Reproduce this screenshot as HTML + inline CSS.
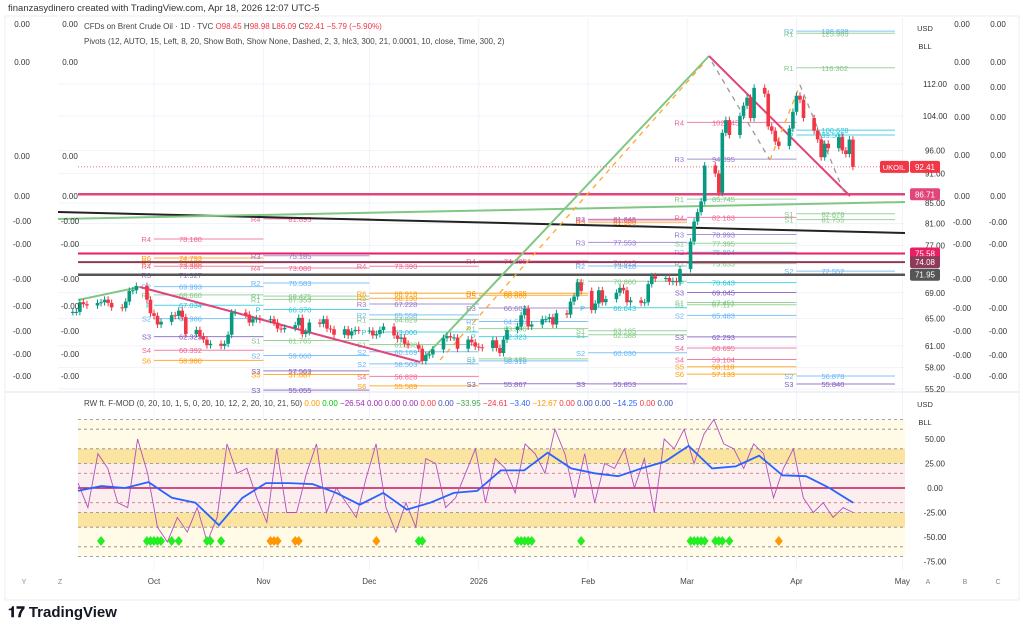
<!DOCTYPE html>
<html><head><meta charset="utf-8"><style>
body{margin:0;background:#fff;font-family:"Liberation Sans",sans-serif;}
svg text{font-family:"Liberation Sans",sans-serif;}
</style></head><body>
<svg id="c" width="1024" height="632" xmlns="http://www.w3.org/2000/svg">
<rect x="0" y="0" width="1024" height="632" fill="#fff"/>
<text x="8" y="11" font-size="9.5" fill="#333">finanzasydinero created with TradingView.com, Apr 18, 2026 12:07 UTC-5</text>
<rect x="5" y="16" width="1014" height="584" fill="none" stroke="#eee"/>
<g id="grid"></g><g id="bands"></g><g id="pivots"></g><g id="lines"></g><g id="candles"></g><g id="osc"></g><g id="axes"></g>
<text x="84" y="29" font-size="8" fill="#444">CFDs on Brent Crude Oil · 1D · TVC  <tspan fill="#f23645">O98.45</tspan>  H<tspan fill="#f23645">98.98</tspan>  L<tspan fill="#f23645">86.09</tspan>  C<tspan fill="#f23645">92.41  −5.79 (−5.90%)</tspan></text>
<text x="84" y="44" font-size="8" fill="#444">Pivots (12, AUTO, 15, Left, 8, 20, Show Both, Show None, Dashed, 2, 3, hlc3, 300, 21, 0.0001, 10, close, Time, 300, 2)</text>
<text x="84" y="406" font-size="8" fill="#444">RW ft. F-MOD (0, 20, 10, 1, 5, 0, 20, 10, 12, 2, 20, 10, 21, 50) <tspan fill="#ff9800">0.00</tspan> <tspan fill="#00c800">0.00</tspan> <tspan fill="#9c27b0">−26.54 0.00 0.00 0.00</tspan> <tspan fill="#f23645">0.00</tspan> <tspan fill="#3f51b5">0.00</tspan> <tspan fill="#43a047">−33.95</tspan> <tspan fill="#f23645">−24.61</tspan> <tspan fill="#2962ff">−3.40</tspan> <tspan fill="#ff9800">−12.67</tspan> <tspan fill="#f23645">0.00</tspan> <tspan fill="#3f51b5">0.00 0.00</tspan> <tspan fill="#2962ff">−14.25</tspan> <tspan fill="#f23645">0.00</tspan> <tspan fill="#3f51b5">0.00</tspan></text>
<g><text x="8" y="617" font-size="15" font-weight="bold" fill="#131722">𝟏𝟕 TradingView</text></g>
</svg>
<script>
const closes=[66.0,66.0,67.5,67.2,67.0, 67.4,67.5,67.9,67.4,66.7, 66.6,67.6,69.3,69.4,70.1, 67.9,65.8,65.4,64.1,64.5, 65.5,65.4,66.2,65.2,62.7, 63.3,62.4,61.9,61.1,61.3, 61.0,61.3,62.6,65.9,65.9, 65.6,64.4,64.9,65.0,64.8, 64.9,64.4,63.5,63.4,63.6, 64.0,65.1,62.7,63.0,64.4, 64.2,64.9,63.5,63.4,62.6, 63.4,62.5,63.1,63.3,63.2, 63.2,62.5,62.7,63.3,63.8, 62.5,62.0,62.2,61.3,61.1, 60.6,58.9,59.7,59.8,60.5, 62.1,62.4,62.2,62.2,60.6, 61.9,61.5,60.9,60.8,60.7, 61.8,60.7,60.0,61.9,63.3, 63.8,65.5,66.5,63.8,64.1, 64.9,64.9,65.2,64.1,65.8, 65.6,67.6,68.4,70.7,69.3, 66.3,67.3,69.4,67.5,68.0, 69.0,69.8,69.4,67.5,67.8, 67.4,67.5,70.4,71.7,71.3, 71.4,70.8,70.9,70.7,72.9, 77.7,81.4,83.2,85.3,92.7, 91.0,87.0,100.0,103.0,99.5, 104.0,106.5,108.5,103.5,111.0, 109.5,101.5,100.5,98.0,97.0, 101.0,105.0,109.0,108.0,103.5, 100.5,98.5,94.5,97.5,96.5, 99.0,96.0,95.2,98.45,92.41];
const yTicks=[112,104,96,91,85,81,77,69,65,61,58,55.2];
const monthLabels=["Oct","Nov","Dec","2026","Feb","Mar","Apr","May"];
const monthDates=["2025-10-01","2025-11-01","2025-12-01","2026-01-01","2026-02-01","2026-03-01","2026-04-01","2026-05-01"];
const periodStarts=["2025-09-10","2025-10-01","2025-11-01","2025-12-01","2026-01-01","2026-02-01","2026-03-01","2026-04-01","2026-05-01"];
const pivotPeriod=[1,1,1,1,1,1,1,1,1,1,1,1, 2,2,2,2,2,2,2,2,2,2,2,2, 3,3,3,3,3,3,3,3,3,3,3,3, 4,4,4,4,4,4,4,4,4,4, 5,5,5,5,5,5,5,5,5,5,5,5, 6,6,6,6,6,6,6,6,6,6,6,6,6,6,6,6,6,6, 7,7,7,7,7,7,7,7,7,7];
const pivotLabel=["R4","R6","R5","R4","R3","R2","R1","P","S2","S3","S4","S6", "R4","R3","R4","R2","R1","R1","P","S1","S2","S3","S5","S3", "R4","R6","R5","R3","R2","R1","P","S1","S2","S2","S4","S6", "R4","R6","R5","R3","R2","R1","P","S1","S2","S3", "R3","R5","R4","R3","R?","R2","R1","P","S1","S1","S2","S3", "R4","R3","R1","R4","R3","S1","R2","R1","P","S3","S1","S1","S2","S3","S4","S4","S5","S6", "R2","R1","R1","P","P","S1","S1","S2","S2","S3"];
const pivotValue=[78.180,74.793,73.980,73.380,71.927,69.993,68.660,67.034,64.986,62.323,60.392,58.980, 81.895,75.185,73.080,70.583,68.475,67.953,66.370,61.765,59.660,57.563,57.087,55.055, 73.390,68.918,68.130,67.228,65.558,64.829,63.000,61.198,60.169,58.503,56.828,55.589, 74.285,68.925,68.600,66.607,64.556,63.500,62.323,59.185,58.918,55.867, 81.845,81.300,81.690,77.553,74.015,73.418,70.860,66.643,63.185,62.588,60.030,55.853, 102.445,94.095,85.745,82.183,78.993,77.395,75.804,73.833,70.643,69.045,67.451,67.117,65.483,62.293,60.695,59.104,58.118,57.133, 126.628,125.985,116.302,100.628,99.500,82.878,81.755,72.552,56.878,55.840];
const oscBlue=[-3,2,0,6,-10,-15,-38,-10,5,5,4,-5,-17,-5,-22,-15,-5,-3,18,18,36,20,15,12,20,27,43,20,22,33,13,12,0,-15];
const oscPurple=[5,-20,35,20,-15,-20,50,15,-40,-55,-30,-45,-20,-55,-30,45,15,20,-10,-35,40,-25,-25,15,45,-25,0,-15,-30,10,45,-20,-45,-15,-40,30,25,-20,-10,15,40,-15,30,20,-5,45,35,15,60,35,-10,35,-15,25,20,40,0,30,-25,50,40,60,25,55,70,45,40,20,45,35,-10,20,40,-10,-25,-15,-30,-20,-25];
const diamondDates=["2025-09-16","2025-09-29","2025-09-30","2025-10-01","2025-10-02","2025-10-03","2025-10-06","2025-10-08","2025-10-16","2025-10-17","2025-10-20","2025-11-03","2025-11-04","2025-11-05","2025-11-10","2025-11-11","2025-12-03","2025-12-15","2025-12-16","2026-01-12","2026-01-13","2026-01-14","2026-01-15","2026-01-16","2026-01-30","2026-03-02","2026-03-03","2026-03-04","2026-03-05","2026-03-06","2026-03-09","2026-03-10","2026-03-11","2026-03-13","2026-03-27"];
const diamondKind=["g","g","g","g","g","g","g","g","g","g","g","o","o","o","o","o","o","g","g","g","g","g","g","g","g","g","g","g","g","g","g","g","g","g","o"];
const NS="http://www.w3.org/2000/svg";
function mk(p,tag,at){const e=document.createElementNS(NS,tag);for(const k in at)e.setAttribute(k,at[k]);document.getElementById(p).appendChild(e);return e;}
const D0=Date.UTC(2025,9,1);
function xd(s){const [y,m,d]=s.split("-").map(Number);return 154+(Date.UTC(y,m-1,d)-D0)/864e5*3.53;}
function yp(p){return 84+(Math.log(112)-Math.log(p))*431;}
function yo(v){return 488-v*0.98;}
const X0=58,X1=905;
const tdates=[];{let t=Date.UTC(2026,3,17);while(tdates.length<closes.length){const w=new Date(t).getUTCDay();if(w!==0&&w!==6)tdates.unshift(t);t-=864e5;}}
function xt(t){return 154+(t-D0)/864e5*3.53;}
monthDates.forEach((d,i)=>{const l=mk("grid","line",{x1:xd(d),x2:xd(d),y1:18,y2:570,stroke:"#f0f3fa"});

});
yTicks.forEach(p=>{const l=mk("grid","line",{x1:X0,x2:X1,y1:yp(p),y2:yp(p),stroke:"#f0f3fa"});

});
mk("grid","line",{x1:5,x2:1019,y1:392,y2:392,stroke:"#e0e3eb"});
[[70,-70,"#fffbe6"],[40,25,"#fbe3a0"],[-25,-40,"#fbe3a0"],[25,-25,"#fbeeee"]].forEach(b=>{const r=mk("bands","rect",{x:X0+20,y:yo(b[0]),width:X1-X0-20,height:yo(b[1])-yo(b[0]),fill:b[2]});

});
[70,60,40,25,15,-15,-25,-40,-60,-70].forEach(v=>{const l=mk("bands","line",{x1:X0+20,x2:X1,y1:yo(v),y2:yo(v),stroke:Math.abs(v)==15?"#e57373":"#888","stroke-dasharray":"3,3","stroke-width":0.8});

});
{const l=mk("bands","line",{x1:X0+20,x2:X1,y1:yo(0),y2:yo(0),stroke:"#c2185b","stroke-width":1.5});

}
function pcol(l){const c=l[0],n=l[1];if(l==="P")return "#26c6da";if(c==="R"){return {"1":"#81c784","2":"#64b5f6","3":"#9575cd","4":"#f06292","5":"#ff9800","6":"#ff9800"}[n]||"#f06292";}return {"1":"#81c784","2":"#64b5f6","3":"#7e57c2","4":"#f06292","5":"#ff9800","6":"#ff9800"}[n];}
pivotValue.forEach((v,i)=>{const p=pivotPeriod[i],x1=xd(periodStarts[p]),x2=Math.min(xd(periodStarts[p+1]),X1-10),y=yp(v),c=pcol(pivotLabel[i]);
const l=mk("pivots","line",{x1:x1,x2:x2,y1:y,y2:y,stroke:c,"stroke-width":1,opacity:0.8});


const t=mk("pivots","text",{x:x1-3,y:y+3,"font-size":7.5,fill:c,"text-anchor":"end"});t.textContent=pivotLabel[i];


const t2=mk("pivots","text",{x:x1+25,y:y+3,"font-size":7.5,fill:c});t2.textContent=v.toFixed(3);

});
[[86.71,"#e0457b",2.5],[75.58,"#e91e63",2],[74.08,"#8e3b5a",2],[71.95,"#555",2.5]].forEach(h=>{const l=mk("lines","line",{x1:X0+20,x2:X1,y1:yp(h[0]),y2:yp(h[0]),stroke:h[1],"stroke-width":h[2]});

});
[[X0,212,X1,233,"#222",2],[X0,219,X1,202,"#81c784",2],[X0+20,300,140,287,"#81c784",2],[140,287,420,362,"#e0457b",2],[420,362,709,56,"#81c784",2],[709,56,850,196,"#e0457b",2]].forEach(s=>{const l=mk("lines","line",{x1:s[0],y1:s[1],x2:s[2],y2:s[3],stroke:s[4],"stroke-width":s[5]});

});
[[440,360,705,62,"#ffa726"],[712,62,770,160,"#999"],[770,160,800,85,"#ffa726"],[800,85,845,195,"#999"]].forEach(s=>{const l=mk("lines","line",{x1:s[0],y1:s[1],x2:s[2],y2:s[3],stroke:s[4],"stroke-width":1.3,"stroke-dasharray":"5,5"});

});
{const l=mk("lines","line",{x1:X0+20,x2:X1,y1:yp(92.41),y2:yp(92.41),stroke:"#f23645","stroke-dasharray":"1,2","stroke-width":0.8});

}
closes.forEach((c,i)=>{const o=i?closes[i-1]:c,x=xt(tdates[i]),up=c>=o,col=up?"#089981":"#f23645";
const hi=Math.max(o,c)*1.008,lo=Math.min(o,c)*0.992;
const w=mk("candles","line",{x1:x,x2:x,y1:yp(hi),y2:yp(lo),stroke:col,"stroke-width":1});


const y1=yp(Math.max(o,c)),y2=yp(Math.min(o,c));
const b=mk("candles","rect",{x:x-1.8,y:y1,width:3.6,height:Math.max(1,y2-y1),fill:col});

});
const ox0=78,ox1=853;
function series(arr,col,w,name){const pts=arr.map((v,i)=>(ox0+i*(ox1-ox0)/(arr.length-1)).toFixed(1)+","+yo(v).toFixed(1)).join(" ");
const p=mk("osc","polyline",{points:pts,fill:"none",stroke:col,"stroke-width":w});

}
series(oscPurple,"#b04fc0",0.9,"oscillator-purple-line");
series(oscBlue,"#2962ff",1.8,"oscillator-blue-line");
diamondDates.forEach((d,i)=>{const x=xd(d),y=541;
const p=mk("osc","polygon",{points:`${x},${y-5} ${x+4},${y} ${x},${y+5} ${x-4},${y}`,fill:diamondKind[i]==="g"?"#22ee22":"#ff9800"});

});
function txt(x,y,s,at,name,inter){const t=mk("axes","text",Object.assign({x:x,y:y,"font-size":8,fill:"#333"},at||{}));t.textContent=s;

return t;}
yTicks.forEach(p=>txt(935,yp(p)+3,p.toFixed(2),{"text-anchor":"middle"},"price-tick",false));
[50,25,0,-25,-50,-75].forEach(v=>txt(935,yo(v)+3,v.toFixed(2),{"text-anchor":"middle"},"oscillator-tick",false));
monthLabels.forEach((m,i)=>txt(xd(monthDates[i]),584,m,{"text-anchor":"middle",fill:"#444"},"date-tick",false));
[["Y",24],["Z",60],["A",928],["B",965],["C",998]].forEach(a=>txt(a[1],584,a[0],{"text-anchor":"middle",fill:"#888","font-size":7},"scale-button",true));
const leftRows=[[24,"0.00"],[62,"0.00"],[156,"0.00"],[196,"0.00"],[221,"-0.00"],[244,"-0.00"],[279,"-0.00"],[306,"-0.00"],[331,"-0.00"],[354,"-0.00"],[376,"-0.00"]];
leftRows.forEach(r=>{txt(22,r[0]+3,r[1],{"text-anchor":"middle"},"left-scale-value",false);txt(70,r[0]+3,r[1],{"text-anchor":"middle"},"left-scale-value",false);});
const rightRows=[[24,"0.00"],[62,"0.00"],[87,"0.00"],[117,"0.00"],[155,"0.00"],[196,"0.00"],[222,"-0.00"],[244,"-0.00"],[279,"-0.00"],[308,"-0.00"],[331,"-0.00"],[355,"-0.00"],[376,"-0.00"]];
rightRows.forEach(r=>{txt(962,r[0]+3,r[1],{"text-anchor":"middle"},"right-scale-value",false);txt(998,r[0]+3,r[1],{"text-anchor":"middle"},"right-scale-value",false);});
[[28,"USD"],[46,"BLL"],[404,"USD"],[422,"BLL"]].forEach(u=>txt(925,u[0]+3,u[1],{"text-anchor":"middle","font-size":7.5},"unit-label",true));
[[92.41,"#f23645","92.41"],[86.71,"#e0457b","86.71"],[75.58,"#e91e63","75.58"],[74.08,"#8e3b5a","74.08"],[71.95,"#555","71.95"]].forEach(t=>{const y=yp(t[0]);
const r=mk("axes","rect",{x:910,y:y-6,width:30,height:12,fill:t[1],rx:2});


txt(925,y+3,t[2],{"text-anchor":"middle",fill:"#fff","font-size":8},"price-tag-label",false);});
{const y=yp(92.41);const r=mk("axes","rect",{x:880,y:y-6,width:29,height:12,fill:"#f23645",rx:2});


txt(894,y+3,"UKOIL",{"text-anchor":"middle",fill:"#fff","font-size":7.5},"symbol-tag-label",false);}
</script>
</body></html>
